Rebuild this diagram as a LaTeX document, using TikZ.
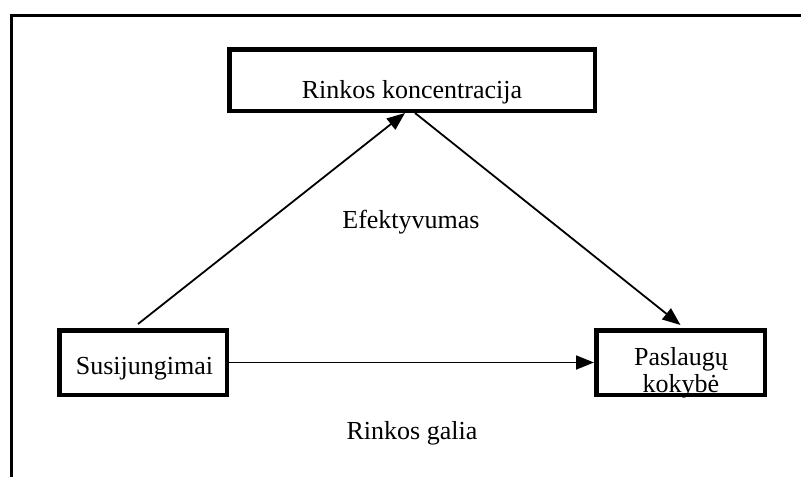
\documentclass[tikz,border=0pt]{standalone}
\usepackage{fontspec}
\setmainfont{Liberation Serif}
\usetikzlibrary{arrows.meta}
\begin{document}
\begin{tikzpicture}[x=1pt,y=-1pt,
  box/.style={draw, line width=4.5pt, inner sep=0pt},
  lbl/.style={font=\fontsize{26}{27}\selectfont, anchor=base, inner sep=0pt},
  link/.style={line width=1.8pt, -{Triangle[length=18pt,width=14pt]}},
  frame/.style={line width=3pt}]
\useasboundingbox (0,0) rectangle (801,477);
% outer frame (top and left edges)
\draw[frame] (11,477) -- (11,15) -- (801,15);
% boxes
\node[box, minimum width=365.5pt, minimum height=61.5pt] (conc) at (412,80) {};
\node[box, minimum width=167.5pt, minimum height=64.5pt] (merg) at (143,362.5) {};
\node[box, minimum width=168.5pt, minimum height=64.5pt] (qual) at (680.5,362.5) {};
% box texts
\node[lbl] (concT) at (412,98) {Rinkos koncentracija};
\node[lbl] (mergT) at (144.5,374) {Susijungimai};
\node[lbl] (qualT1) at (681,365) {Paslaugų};
\node[lbl] (qualT2) at (681,392) {kokybė};
% free labels
\node[lbl] (eff) at (411,228) {Efektyvumas};
\node[lbl] (power) at (412,439) {Rinkos galia};
% connectors
\draw[link] ([xshift=-5pt,yshift=4pt]merg.north) -- ([xshift=-7pt]conc.south);
\draw[link] ([xshift=3pt]conc.south) -- ([yshift=3pt]qual.north);
\draw[link] (merg.east) -- (qual.west);
\end{tikzpicture}
\end{document}
